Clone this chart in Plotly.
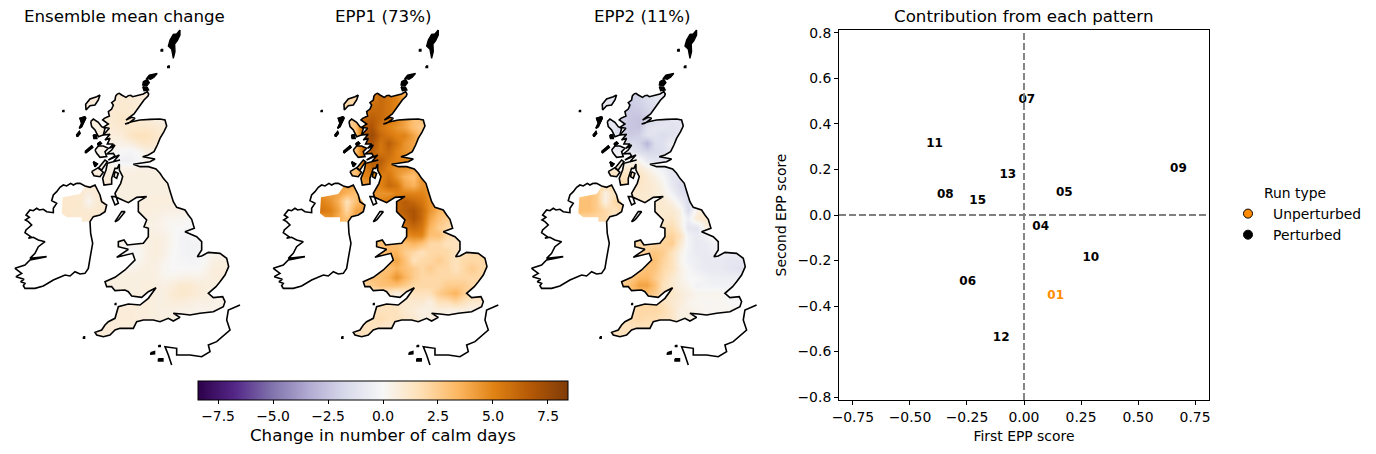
import plotly.graph_objects as go

W, H = 1376, 454
FONT = "DejaVu Sans"

# ---------- scatter panel data ----------
run_labels = ["07", "11", "13", "09", "08", "15", "05", "04", "10", "06", "12"]
first_epp = [0.012, -0.392, -0.071, 0.677, -0.345, -0.203, 0.177, 0.073, 0.293, -0.247, -0.10]
second_epp = [0.507, 0.313, 0.174, 0.202, 0.089, 0.063, 0.098, -0.053, -0.187, -0.294, -0.539]
unpert_label = ["01"]
unpert_first = [0.139]
unpert_second = [-0.358]

# ---------- map grid ----------
grid_x = [190 + 25 * i for i in range(21)]
grid_y = [220 + 25 * i for i in range(30)]

mean_z = [
 [.8,.8,.8,.8,.8,.8,.9,1,.9,.8,.7,.5,.5,.5,.5,.5,.5,.5,.5,.5,.5],
 [.8,.8,.8,.8,.8,.8,.9,1,.9,.8,.7,.5,.5,.5,.5,.5,.5,.5,.5,.5,.5],
 [.8,.8,.8,.8,.8,.8,1,1,1,.8,.7,.5,.5,.5,.5,.5,.5,.5,.5,.5,.5],
 [.7,.7,.7,.7,.7,.8,1,1.2,1,.9,.8,.5,.5,.5,.5,.5,.5,.5,.5,.5,.5],
 [.6,.6,.6,.6,.6,.8,.9,1,1.1,1.1,1.1,1,.8,.5,.5,.5,.5,.5,.5,.5,.5],
 [.6,.6,.6,.6,.6,.6,.7,.8,1.3,1.5,1.5,1.2,.8,.5,.5,.5,.5,.5,.5,.5,.5],
 [.5,.5,.5,.5,.5,.5,.5,.4,.6,1,1.2,1,.7,.5,.5,.5,.5,.5,.5,.5,.5],
 [.3,.3,.3,.3,.3,.3,.2,0,-.2,.1,.5,.6,.5,.5,.5,.5,.5,.5,.5,.5,.5],
 [.3,.3,.3,.3,.3,.3,-.2,-.4,-.4,-.1,.3,.4,.5,.5,.5,.5,.5,.5,.5,.5,.5],
 [.6,.6,.6,.6,.6,.6,.4,.4,.4,.5,.5,.5,.5,.5,.5,.5,.5,.5,.5,.5,.5],
 [.8,.8,.8,.8,.8,.8,.6,.6,.6,.6,.6,.6,.5,.5,.5,.5,.5,.5,.5,.5,.5],
 [.9,.9,.9,.9,.9,.9,.6,.6,.6,.6,.6,.6,.6,.5,.5,.5,.5,.5,.5,.5,.5],
 [1,1,1,.6,.9,.9,.6,.6,.6,.6,.6,.6,.6,.6,.5,.5,.5,.5,.5,.5,.5],
 [1.1,1.1,1,.2,.9,.9,.6,.6,.6,.6,.6,.7,.7,.6,.5,.5,.5,.5,.5,.5,.5],
 [1.1,1.1,1,.9,1,1,.6,.6,.6,.6,.7,.6,.5,.5,.4,.3,.3,.3,.3,.3,.3],
 [1,1,1,1,1,.9,.6,.6,.6,.6,.5,.5,.3,.2,.2,.1,.1,.1,.1,.1,.1],
 [.5,.5,.5,.5,.5,.5,.5,.5,.5,.5,.5,.4,.3,.1,0,-.1,0,0,0,0,0],
 [.5,.5,.5,.5,.5,.5,.5,.5,.5,.5,.5,.6,.5,.2,-.2,-.2,-.1,-.1,-.1,-.1,-.1],
 [.5,.5,.5,.5,.5,.5,.5,.3,.2,.3,.5,.7,.5,.2,-.2,-.3,-.2,0,.1,.1,.1],
 [.5,.5,.5,.5,.5,.5,.3,-.1,-.2,.1,.5,.7,.5,.1,-.2,-.3,-.2,0,.2,.2,.2],
 [.5,.5,.5,.5,.5,.5,.3,-.1,-.1,.2,.5,.6,.3,0,-.1,-.2,-.2,.1,.5,.6,.6],
 [.5,.5,.5,.5,.5,.4,.4,.3,.3,.5,.6,.5,.2,0,0,0,0,.3,.7,.7,.7],
 [.5,.5,.5,.5,.5,.5,.6,.6,.6,.6,.6,.5,.3,.3,.4,.5,.4,.5,.7,.7,.7],
 [.5,.5,.5,.5,.5,.5,.6,.6,.6,.6,.7,.6,.5,.7,1,1,.8,.7,.6,.6,.6],
 [.5,.5,.5,.5,.5,.5,.6,.6,.6,.6,.6,.6,.6,.9,1.1,1,.8,.6,.4,.4,.4],
 [.7,.7,.7,.7,.7,.7,.7,.7,.7,.7,.7,.6,.6,.7,.7,.6,.5,.5,.4,.4,.4],
 [.7,.7,.7,.7,.7,.7,.8,.8,.8,.7,.7,.6,.5,.5,.4,.4,.3,.3,.3,.3,.3],
 [.8,.8,.8,.8,.8,.8,.8,.8,.8,.7,.7,.6,.5,.5,.4,.4,.4,.4,.4,.4,.4],
 [.8,.8,.8,.8,.8,.8,.8,.7,.7,.7,.7,.6,.5,.5,.4,.4,.4,.4,.4,.4,.4],
 [.8,.8,.8,.8,.8,.8,.8,.7,.7,.7,.7,.6,.5,.5,.4,.4,.4,.4,.4,.4,.4],
]

epp1_z = [
 [2,2,2,2,2,4,5,6,5.5,5,3.5,3,3,3,3,3,3,3,3,3,3],
 [2,2,2,2,2,4,5.5,6,5.5,5,4,3,3,3,3,3,3,3,3,3,3],
 [2,2,2,2,2,5,6,6,5.5,5,4.5,4,3,3,3,3,3,3,3,3,3],
 [2,2,2,2,3,6,6.5,6,5.5,5,4,3,3,3,3,3,3,3,3,3,3],
 [2,2,2,2,3,6.5,7,5.5,5,4.5,4,3,2.5,3,3,3,3,3,3,3,3],
 [2,2,2,2,3,6.5,7.5,6,5.5,5,5,4,3,3,3,3,3,3,3,3,3],
 [2,2,2,2,3,6.5,7,5.5,6.5,5.5,4.5,4,3,3,3,3,3,3,3,3,3],
 [3,3,3,3,3,6,6.5,5.5,6,5,4.5,4,4,4,4,4,4,4,4,4,4],
 [3,3,3,3,3,6,6.5,6.5,5.5,5,5,5,4,4,4,4,4,4,4,4,4],
 [3,3,3,3,3,5,6,6,5,4.5,4.5,4,4,4,4,4,4,4,4,4,4],
 [3,3,3,3,3,5,5,5,5.5,4.5,3.5,3,4.5,4,4,4,4,4,4,4,4],
 [4,4,4,4,4,4,4.5,5,6,5.5,4,3.5,4.5,4.5,5,5,5,5,5,5,5],
 [4.5,4,4,3.5,3,3.5,4.5,4.5,4.5,5,5,5,5,4.5,5,5,5,5,5,5,5],
 [5,4.5,3.5,1.5,3,4,4,5,5.5,6,6.5,6,5.5,4.5,4,4,4,4,4,4,4],
 [5.5,5,4,2,4,4,4,5,5.5,6,6.5,7,6,4.5,3.5,3,3,3,3,3,3],
 [4,4.5,3.5,3,4,4,4,5,5.5,6,6,7,6,4,3,2.5,2,2,2,2,2],
 [3,3,3,3,3,3,3,4,5,6,5.5,6,5.5,3.5,2.5,2,1.5,1.5,1.5,1.5,1.5],
 [3,3,3,3,3,3,3,3,4,5,4.5,5,5,3,3,2,1.5,1.5,1.5,1.5,1.5],
 [3,3,3,3,3,3,3,3,3,3,3,3.5,3,2,2,1.5,1.5,1.5,1.5,1.5,1.5],
 [3,3,3,3,3,3,3,3,3.5,3.5,2.5,2,1.5,2,2,2,1.5,1.5,2,2,2],
 [3,3,3,3,3,3,3,3,3.5,4,3,1.5,2,2,2.5,2,1.5,2,2,2,2],
 [3,3,3,3,3,3,3,3,3,3.5,3,2.5,2,2.5,2,2,1.5,2,2.5,2,2],
 [2.5,2.5,2.5,2.5,2.5,2.5,3,3,3.5,4.5,3.5,2.5,2,2,2,2,2,2,2,2,2],
 [2,2,2,2,2,2,2.5,3,3,3,2.5,2,2,2,2,2.5,2.5,2.5,2,2,2],
 [1,1,1,1,1,1,1,1,1,.5,1,1.5,1.5,1.5,2.5,3,3.5,2.5,2,2,2],
 [1.5,1.5,1.5,1.5,1.5,1.5,1.5,1.5,1.5,1,1,1,1,.5,1.5,1.5,2,1.5,1,1,1],
 [1.5,1.5,1.5,1.5,1.5,1.5,1.5,1.5,1.5,1.5,1,.8,.5,.6,.6,.5,.4,.5,.4,.4,.4],
 [1.5,1.5,1.5,1.5,1.5,1.5,1.5,1.8,1.5,1.5,1.2,1,.6,.5,.5,.5,.5,.5,.5,.5,.5],
 [1.5,1.5,1.5,1.5,1.5,1.5,1.5,1.2,1,1,1,1,1,1,1,1,1,1,1,1,1],
 [1.5,1.5,1.5,1.5,1.5,1.5,1.5,1.5,1,1,1,1,1,1,1,1,1,1,1,1,1],
]

epp2_z = [
 [-1,-1,-1,-1,-1,-1.5,-2,-1.8,-1.2,-.8,-.8,-1,-1,-1,-1,-1,-1,-1,-1,-1,-1],
 [-1,-1,-1,-1,-1,-1.5,-2.2,-2,-1.6,-1.2,-1,-1,-1,-1,-1,-1,-1,-1,-1,-1,-1],
 [-1,-1,-1,-1,-1,-1.8,-2.3,-2.2,-1.8,-1.5,-1,-1,-1,-1,-1,-1,-1,-1,-1,-1,-1],
 [-1,-1,-1,-1,-1,-2,-2.4,-2.5,-2,-1.5,-1.2,-1,-1,-1,-1,-1,-1,-1,-1,-1,-1],
 [-1,-1,-1,-1,-1,-2,-2.4,-2.5,-1.3,-1,-1,-1.2,-1,-1,-1,-1,-1,-1,-1,-1,-1],
 [-1,-1,-1,-1,-1,-1.8,-2.2,-2,-1.2,-1.2,-1.5,-1.2,-1,-1,-1,-1,-1,-1,-1,-1,-1],
 [-1,-1,-1,-1,-1,-1,-1.5,-1.8,-3,-1.5,-1.3,-.5,-.8,-1,-1,-1,-1,-1,-1,-1,-1],
 [-.5,-.5,-.5,-.5,-.5,-.5,-1,-1.5,-1.8,-1.6,-1.4,-.8,-.8,-.8,-.8,-.8,-.8,-.8,-.8,-.8,-.8],
 [0,0,0,0,0,0,.3,.3,-.8,-1,-1,-1,-1,-1,-1,-1,-1,-1,-1,-1,-1],
 [1,1,1,1,1,1,1,1,.5,0,-.5,-1,-.5,-.5,-.5,-.5,-.5,-.5,-.5,-.5,-.5],
 [1.5,1.5,1.5,1.5,1.5,1.5,1.5,1.3,1,.5,0,-1,-1.2,-.5,-.5,-.5,-.5,-.5,-.5,-.5,-.5],
 [2,2,2,2,2,2,1.5,1.2,1,.8,.3,-.8,-1.5,-2,-1,-1,-1,-1,-1,-1,-1],
 [2.5,3,2.5,.5,1.5,2,1,1,1,.8,.5,-.3,-1.2,-1.5,-1,-1,-1,-1,-1,-1,-1],
 [3,3,2.5,.5,2,2,1,1,1,1,1,.5,-.5,-1.5,-.5,-.5,-.5,-.5,-.5,-.5,-.5],
 [3,3,2.5,2,1.5,2,1,1,1,1,1,1,.5,-1.5,.5,1,1,1,1,1,1],
 [2,2,2,2,1,1,1,1,1,1,1,1.3,.5,-.5,1,1,1,1,1,1,1],
 [1.5,1.5,1.5,1.5,1,1,1,1,1,1.5,1.5,1.8,.8,-1,-1,.5,1,1,1,1,1],
 [1.5,1.5,1.5,1.5,1.5,1.5,1.5,1.5,1.5,2,2,2.2,1.5,-.3,-.8,-.3,.3,.3,.3,.3,.3],
 [2,2,2,2,2,2,2,2,2,2,2.2,2.5,1,-.2,-.8,-.7,-.3,-.3,-.3,-.3,-.3],
 [2,2,2,2,2,2,2,2,2.5,2.8,2.5,1.5,.5,-.3,-.7,-.8,-.5,-.3,-.5,-.5,-.5],
 [2,2,2,2,2,2,2.5,2.5,3,3,2.2,1.5,.3,-.3,-.5,-.8,-.8,-.8,-1,-1,-1],
 [2,2,2,2,2,2,2.5,2.5,3,2.8,2,1.5,.5,0,-.5,-.7,-.8,-.8,-1,-1.2,-1.2],
 [2,2,2,2,2,2,2.5,3.3,3.3,2.5,1.8,1,.5,0,0,-.3,-.5,-.5,-.5,-.5,-.5],
 [2,2,2,2,2,2.5,3,4,4,3,1.5,1,.5,.3,-.3,-.2,-.3,-.3,-.3,-.3,-.3],
 [2,2,2,2,2,2.5,3,3,3,2.5,1.5,1.2,.8,.5,.3,.2,.3,.2,-.2,-.2,-.2],
 [2,2,2,2,2,2,2,2,2,2,1.5,1,.8,.3,.2,.1,.1,.2,0,0,0],
 [1.5,1.5,1.5,1.5,1.5,1.5,1.5,2,2,2,1.8,1.2,.5,.5,.3,.2,.2,.2,.2,.2,.2],
 [1.5,1.5,1.5,1.5,1.5,1.5,1.8,2,1.8,1.8,1.5,1.2,.5,.5,.3,.2,.2,.2,.2,.2,.2],
 [1.5,1.5,1.5,1.5,1.5,1.5,1.5,1.5,1.5,1.5,1.5,1,.5,.5,.5,.5,.5,.5,.5,.5,.5],
 [1.5,1.5,1.5,1.5,1.5,1.5,1.5,1.5,1.5,1.5,1.5,1,.5,.5,.5,.5,.5,.5,.5,.5,.5],
]

# ---------- coastlines (in map units) ----------
great_britain = [(352,222),(358,220),(365,225),(372,229),(378,232),(385,227),(392,226),(398,230),(405,228),(412,226),(420,224),
 (430,222),(442,215),(446,222),(444,228),(437,234),(432,240),(425,250),(415,265),(402,282),(388,292),(378,300),(395,292),(405,295),
 (385,310),(375,312),(395,305),(420,300),(450,298),(480,297),(495,300),(500,318),(492,335),(484,348),(480,355),(472,375),(462,395),
 (445,405),(428,410),(445,413),(465,417),(450,425),(430,428),(400,433),(420,440),(445,440),(468,447),(480,460),(490,475),(503,490),
 (512,520),(520,545),(530,562),(555,570),(565,585),(575,598),(583,625),(555,635),(590,650),(605,665),(605,690),(592,710),(605,708),
 (625,697),(660,700),(680,715),(686,740),(675,765),(660,785),(648,800),(625,820),(640,833),(668,830),(675,845),(670,860),(640,875),
 (600,880),(570,885),(545,882),(520,880),(540,892),(520,903),(505,895),(480,905),(460,900),(430,900),(410,905),(400,925),(380,925),
 (360,925),(345,930),(330,945),(310,950),(290,945),(285,937),(305,930),(315,915),(325,905),(345,895),(350,875),(355,860),(385,852),
 (420,855),(445,835),(468,803),(445,815),(425,832),(395,828),(385,815),(375,810),(345,812),(335,800),(320,800),(315,785),(345,772),
 (375,750),(390,735),(405,720),(398,700),(375,705),(350,712),(385,688),(355,680),(355,665),(372,660),(382,675),(405,672),(430,670),
 (445,650),(445,625),(432,620),(440,600),(415,575),(415,545),(440,530),(410,532),(385,548),(365,540),(345,530),(335,530),(345,555),
 (355,550),(345,520),(362,490),(368,470),(358,450),(358,432),(352,445),(345,445),(335,475),(335,492),(312,495),(308,475),(318,450),
 (322,430),(360,420),(340,425),(358,405),(325,420),(345,408),(340,400),(320,402),(335,390),(345,375),(328,385),(340,372),(322,372),
 (330,355),(315,360),(330,343),(310,345),(328,325),(310,322),(325,312),(308,300),(313,295),(328,288),(325,275),(335,267),(340,255),
 (335,248),(345,240),(347,228),(352,222)]
ireland = [(230,490),(220,495),(212,490),(200,498),(190,495),(180,502),(170,515),(160,525),(155,542),(170,550),(160,565),(160,578),
 (140,575),(130,568),(118,570),(110,565),(100,572),(90,570),(78,585),(88,592),(76,600),(85,605),(95,615),(78,630),(75,638),(92,650),
 (85,655),(100,652),(115,660),(135,665),(115,680),(110,690),(105,700),(90,715),(115,712),(140,710),(110,716),(90,720),(75,735),(45,745),
 (65,760),(48,770),(72,778),(62,785),(75,790),(70,797),(75,805),(105,805),(130,798),(145,790),(160,780),(195,765),(210,768),(225,755),
 (240,762),(255,760),(265,745),(270,715),(278,670),(272,640),(270,605),(280,590),(300,585),(315,575),(320,555),(305,545),(300,525),
 (285,495),(270,502),(255,498),(240,490),(230,490)]
northern_ireland_fill = [(188,532),(240,522),(255,500),(285,497),(300,525),(320,555),(315,575),(280,590),(270,605),(245,605),
 (245,592),(200,592),(185,580),(188,532)]
isle_of_man = [(355,600),(375,575),(365,575),(345,605),(355,600)]
lewis = [(300,225),(290,230),(270,237),(257,253),(258,270),(270,257),(285,255),(295,240),(300,225)]
uist = [(255,290),(240,295),(245,310),(238,325),(245,320),(257,295),(255,290)]
barra = [(232,350),(240,340),(238,335),(230,345),(232,350)]
skye = [(272,305),(280,297),(295,307),(305,320),(315,325),(310,345),(295,350),(285,330),(275,320),(272,305)]
rum = [(280,345),(288,345),(290,355),(282,355),(280,345)]
tiree = [(255,395),(275,378),(278,382),(258,398),(255,395)]
mull = [(285,390),(295,378),(310,378),(325,385),(315,395),(320,410),(300,412),(290,400),(285,390)]
lismore = [(292,372),(300,366),(304,370),(296,376),(292,372)]
colonsay = [(280,425),(292,432),(285,440),(280,425)]
islay = [(275,455),(295,443),(310,457),(300,470),(282,467),(275,455)]
jura = [(295,445),(315,420),(322,425),(305,450),(295,445)]
arran = [(345,455),(355,460),(350,475),(342,470),(345,455)]
orkney_north = [(472,160),(448,165),(440,175),(452,178),(462,172),(472,160)]
orkney_main = [(442,178),(430,185),(428,195),(440,198),(448,188),(442,178)]
orkney_south = [(428,200),(442,202),(446,210),(432,212),(428,200)]
shetland = [(540,30),(530,42),(520,43),(510,60),(505,78),(515,88),(520,115),(525,95),(524,72),(532,62),(540,45),(540,30)]
fair_isle = [(503,138),(508,138),(508,143),(503,143),(503,138)]
foula = [(483,88),(488,88),(488,93),(483,93),(483,88)]
st_kilda = [(188,271),(192,271),(192,275),(188,275),(188,271)]
scilly = [(250,950),(254,950),(254,955),(250,955),(250,950)]
lundy = [(345,850),(348,850),(348,854),(345,854),(345,850)]
guernsey = [(452,998),(464,994),(464,1002),(452,1003),(452,998)]
jersey = [(475,1016),(489,1016),(489,1023),(475,1023),(475,1016)]
alderney = [(476,976),(481,976),(481,980),(476,980),(476,976)]
france = [(720,855),(685,870),(680,900),(690,930),(650,965),(625,975),(630,995),(605,1010),(570,1005),(530,1005),(530,985),(495,980),(505,1005),(515,1035)]

outline_closed = [great_britain, ireland, isle_of_man, lewis, uist, barra, skye, rum, tiree, mull, lismore, colonsay, islay, jura, arran]
solid_islands = [orkney_north, orkney_main, orkney_south, shetland, fair_isle, foula, st_kilda, scilly, lundy,
                 guernsey, jersey, alderney, barra, rum, colonsay, lismore, tiree, uist]
coloured_areas = [great_britain, northern_ireland_fill, lewis, skye, mull, islay, jura, arran]
sea_frame = [(172,205),(708,205),(708,968),(172,968),(172,205)]


def signed_area(pts):
    return sum(a[0] * b[1] - b[0] * a[1] for a, b in zip(pts, pts[1:]))


def join_paths(paths):
    xs, ys = [], []
    for p in paths:
        xs += [q[0] for q in p] + [None]
        ys += [q[1] for q in p] + [None]
    return xs, ys


sea_paths = [sea_frame]
for p in coloured_areas:
    sea_paths.append(p if signed_area(p) < 0 else p[::-1])
sea_x, sea_y = join_paths(sea_paths)
coast_x, coast_y = join_paths(outline_closed + [france])
solid_x, solid_y = join_paths(solid_islands)

puor = ["#2d004b", "#542788", "#8073ac", "#b2abd2", "#d8daeb", "#f7f7f7",
        "#fee0b6", "#fdb863", "#e08214", "#b35806", "#7f3b08"]
colorscale = [[i / 10, c] for i, c in enumerate(puor)]

titles = ["Ensemble mean change", "EPP1 (73%)", "EPP2 (11%)", "Contribution from each pattern"]
title_centres = [124.5, 383, 642, 1023.5]
fields = [mean_z, epp1_z, epp2_z]
panel_step = 258.3

fig = go.Figure()
for k, z in enumerate(fields):
    n = "" if k == 0 else str(k + 1)
    fig.add_trace(go.Heatmap(x=grid_x, y=grid_y, z=z, coloraxis="coloraxis", zsmooth="best",
                             xaxis="x" + n, yaxis="y" + n, showlegend=False, hoverinfo="skip"))
    fig.add_trace(go.Scatter(x=sea_x, y=sea_y, mode="lines", fill="toself", fillcolor="white",
                             line=dict(width=0, color="white"), xaxis="x" + n, yaxis="y" + n,
                             showlegend=False, hoverinfo="skip"))
    fig.add_trace(go.Scatter(x=solid_x, y=solid_y, mode="lines", fill="toself", fillcolor="black",
                             line=dict(width=1.3, color="black"), xaxis="x" + n, yaxis="y" + n,
                             showlegend=False, hoverinfo="skip"))
    fig.add_trace(go.Scatter(x=coast_x, y=coast_y, mode="lines", line=dict(color="black", width=1.6),
                             xaxis="x" + n, yaxis="y" + n, showlegend=False, hoverinfo="skip"))
    fig.update_layout(**{
        "xaxis" + n: dict(domain=[panel_step * k / W, (panel_step * k + 250) / W], range=[0, 750], visible=False),
        "yaxis" + n: dict(domain=[1 - 372 / H, 1 - 20 / H], range=[1056, 0], visible=False),
    })

tick_font = dict(family=FONT, size=13.9, color="black")
ax = dict(showline=True, linecolor="black", linewidth=1, mirror=True, ticks="outside", ticklen=4,
          tickcolor="black", showgrid=False, zeroline=False, tickfont=tick_font)
fig.update_layout(
    xaxis4=dict(domain=[839 / W, 1209 / W], range=[-0.811, 0.811], tick0=-0.75, dtick=0.25, tickformat=".2f",
                title=dict(text="First EPP score", font=tick_font, standoff=7), anchor="y4", **ax),
    yaxis4=dict(domain=[1 - 400 / H, 1 - 30 / H], range=[-0.813, 0.813], tick0=-0.8, dtick=0.2, tickformat=".1f",
                title=dict(text="Second EPP score", font=tick_font, standoff=7), anchor="x4", **ax),
)
for shape in (dict(type="line", x0=0, x1=0, xref="x4", yref="y4", y0=-0.813, y1=0.813),
              dict(type="line", y0=0, y1=0, xref="x4", yref="y4", x0=-0.811, x1=0.811)):
    fig.add_shape(line=dict(color="#808080", width=1.9, dash="7px,3px"), **shape)

label_font = dict(family=FONT, size=12, weight="bold")
fig.add_trace(go.Scatter(x=first_epp, y=second_epp, text=run_labels, mode="text", xaxis="x4", yaxis="y4",
                         textfont=dict(color="black", **label_font), showlegend=False))
fig.add_trace(go.Scatter(x=unpert_first, y=unpert_second, text=unpert_label, mode="text", xaxis="x4", yaxis="y4",
                         textfont=dict(color="#ff8c00", **label_font), showlegend=False))
fig.add_trace(go.Scatter(x=[None], y=[None], mode="markers", name="Unperturbed", xaxis="x4", yaxis="y4",
                         marker=dict(color="#ff8c00", size=9, line=dict(color="black", width=1))))
fig.add_trace(go.Scatter(x=[None], y=[None], mode="markers", name="Perturbed", xaxis="x4", yaxis="y4",
                         marker=dict(color="black", size=9, line=dict(color="black", width=1))))

annotations = [dict(text=t, x=cx / W, y=1 - 17 / H, xref="paper", yref="paper",
                    showarrow=False, xanchor="center", yanchor="middle",
                    font=dict(family=FONT, size=16.67, color="black"))
               for t, cx in zip(titles, title_centres)]

fig.update_layout(
    width=W, height=H, margin=dict(l=0, r=0, t=0, b=0, autoexpand=False),
    paper_bgcolor="white", plot_bgcolor="white", font=dict(family=FONT, color="black"),
    annotations=annotations,
    coloraxis=dict(
        cmin=-8.41, cmax=8.41, colorscale=colorscale,
        colorbar=dict(orientation="h", lenmode="pixels", len=370, thickness=19, thicknessmode="pixels",
                      x=383 / W, xanchor="center", y=1 - 381 / H, yanchor="top", xpad=0, ypad=0,
                      outlinecolor="black", outlinewidth=1, ticks="outside", ticklen=4, tickcolor="black",
                      tick0=0, dtick=2.5, tickformat=".1f", tickfont=tick_font,
                      title=dict(text="Change in number of calm days", side="bottom",
                                 font=dict(family=FONT, size=16.67, color="black"))),
    ),
    legend=dict(x=1223 / W, y=1 - 180 / H, xanchor="left", yanchor="top", bgcolor="rgba(0,0,0,0)",
                itemwidth=40, font=tick_font, title=dict(text="Run type", side="top center", font=tick_font)),
)
fig.write_html("out.html", config=dict(displayModeBar=False), post_script="document.body.style.margin='0';")
